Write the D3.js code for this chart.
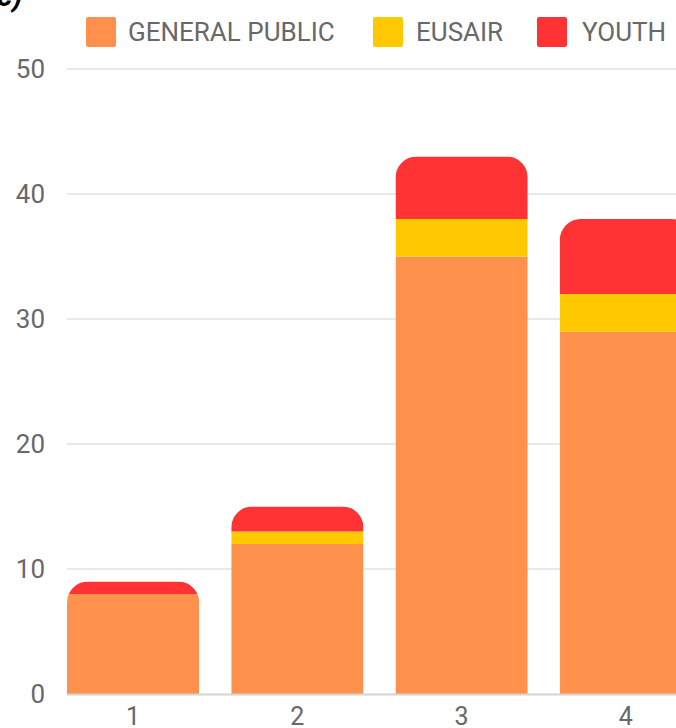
<!DOCTYPE html>
<html>
<head>
<meta charset="utf-8">
<script src="https://cdn.jsdelivr.net/npm/d3@7"></script>
<style>
  html, body { margin: 0; padding: 0; background: #fff; overflow: hidden; }
  svg { display: block; }
  text { font-family: Roboto, "Liberation Sans", sans-serif; }
</style>
</head>
<body>
<div id="chart"></div>
<script>
const categories = ['1', '2', '3', '4'];
const seriesNames = ['GENERAL PUBLIC', 'EUSAIR', 'YOUTH'];
const generalPublic = [8, 12, 35, 29];
const eusair = [0, 1, 3, 3];
const youth = [1, 2, 5, 6];
const yTicks = [0, 10, 20, 30, 40, 50];
const colors = ['#FF914D', '#FFC900', '#FF3333'];

const width = 676, height = 728;

const svg = d3.select('#chart').append('svg')
  .attr('width', width)
  .attr('height', height);

// partly cropped caption at the top-left
svg.append('text')
  .attr('x', -3).attr('y', 6)
  .attr('font-size', 30).attr('font-weight', 'bold').attr('font-style', 'italic')
  .attr('fill', '#000')
  .text('c)');

const rows = categories.map((c, i) => ({
  cat: c,
  'GENERAL PUBLIC': generalPublic[i],
  'EUSAIR': eusair[i],
  'YOUTH': youth[i]
}));
const stacked = d3.stack().keys(seriesNames)(rows);

const x = d3.scaleBand()
  .domain(categories)
  .range([67, 692])
  .paddingInner(0.195)
  .paddingOuter(0);

const y = d3.scaleLinear()
  .domain([0, 50])
  .range([694, 69]);

// gridlines
svg.append('g')
  .selectAll('line')
  .data(yTicks.filter(d => d > 0))
  .enter().append('line')
  .attr('x1', 67).attr('x2', width)
  .attr('y1', d => y(d)).attr('y2', d => y(d))
  .attr('stroke', '#e9e9e9').attr('stroke-width', 2);

// y labels
svg.append('g')
  .selectAll('text')
  .data(yTicks)
  .enter().append('text')
  .attr('x', 45).attr('y', d => y(d))
  .attr('dy', '0.35em')
  .attr('text-anchor', 'end')
  .attr('font-size', 26)
  .attr('fill', '#686868')
  .text(d => d);

// bars, clipped to a rounded top per stack
const r = 21;
const defs = svg.append('defs');
rows.forEach((row, i) => {
  const total = generalPublic[i] + eusair[i] + youth[i];
  const x0 = x(row.cat), w = x.bandwidth(), top = y(total), bot = y(0);
  defs.append('clipPath').attr('id', 'clip' + i)
    .append('path')
    .attr('d', `M${x0},${bot}V${top + r}A${r},${r} 0 0 1 ${x0 + r},${top}H${x0 + w - r}A${r},${r} 0 0 1 ${x0 + w},${top + r}V${bot}Z`);
});

const layers = svg.append('g')
  .selectAll('g')
  .data(stacked)
  .enter().append('g')
  .attr('fill', (d, i) => colors[i]);

layers.selectAll('rect')
  .data(d => d.map((v, i) => ({ v, i })))
  .enter().append('rect')
  .attr('clip-path', d => 'url(#clip' + d.i + ')')
  .attr('x', d => x(d.v.data.cat))
  .attr('width', x.bandwidth())
  .attr('y', d => y(d.v[1]))
  .attr('height', d => y(d.v[0]) - y(d.v[1]));

// x baseline
svg.append('line')
  .attr('x1', 67).attr('x2', width)
  .attr('y1', y(0) + 0.5).attr('y2', y(0) + 0.5)
  .attr('stroke', '#d4d4d4').attr('stroke-width', 2);

// x labels
svg.append('g')
  .selectAll('text')
  .data(categories)
  .enter().append('text')
  .attr('x', d => x(d) + x.bandwidth() / 2)
  .attr('y', 725)
  .attr('text-anchor', 'middle')
  .attr('font-size', 25)
  .attr('fill', '#686868')
  .text(d => d);

// legend
const legendX = [86, 373, 537];
const legend = svg.append('g')
  .selectAll('g')
  .data(seriesNames)
  .enter().append('g')
  .attr('transform', (d, i) => `translate(${legendX[i]},17)`);
legend.append('rect')
  .attr('width', 30).attr('height', 30).attr('rx', 2)
  .attr('fill', (d, i) => colors[i]);
legend.append('text')
  .attr('x', (d, i) => [42, 43, 45][i])
  .attr('y', 24)
  .attr('font-size', 26)
  .attr('fill', '#686868')
  .text(d => d);
</script>
</body>
</html>
